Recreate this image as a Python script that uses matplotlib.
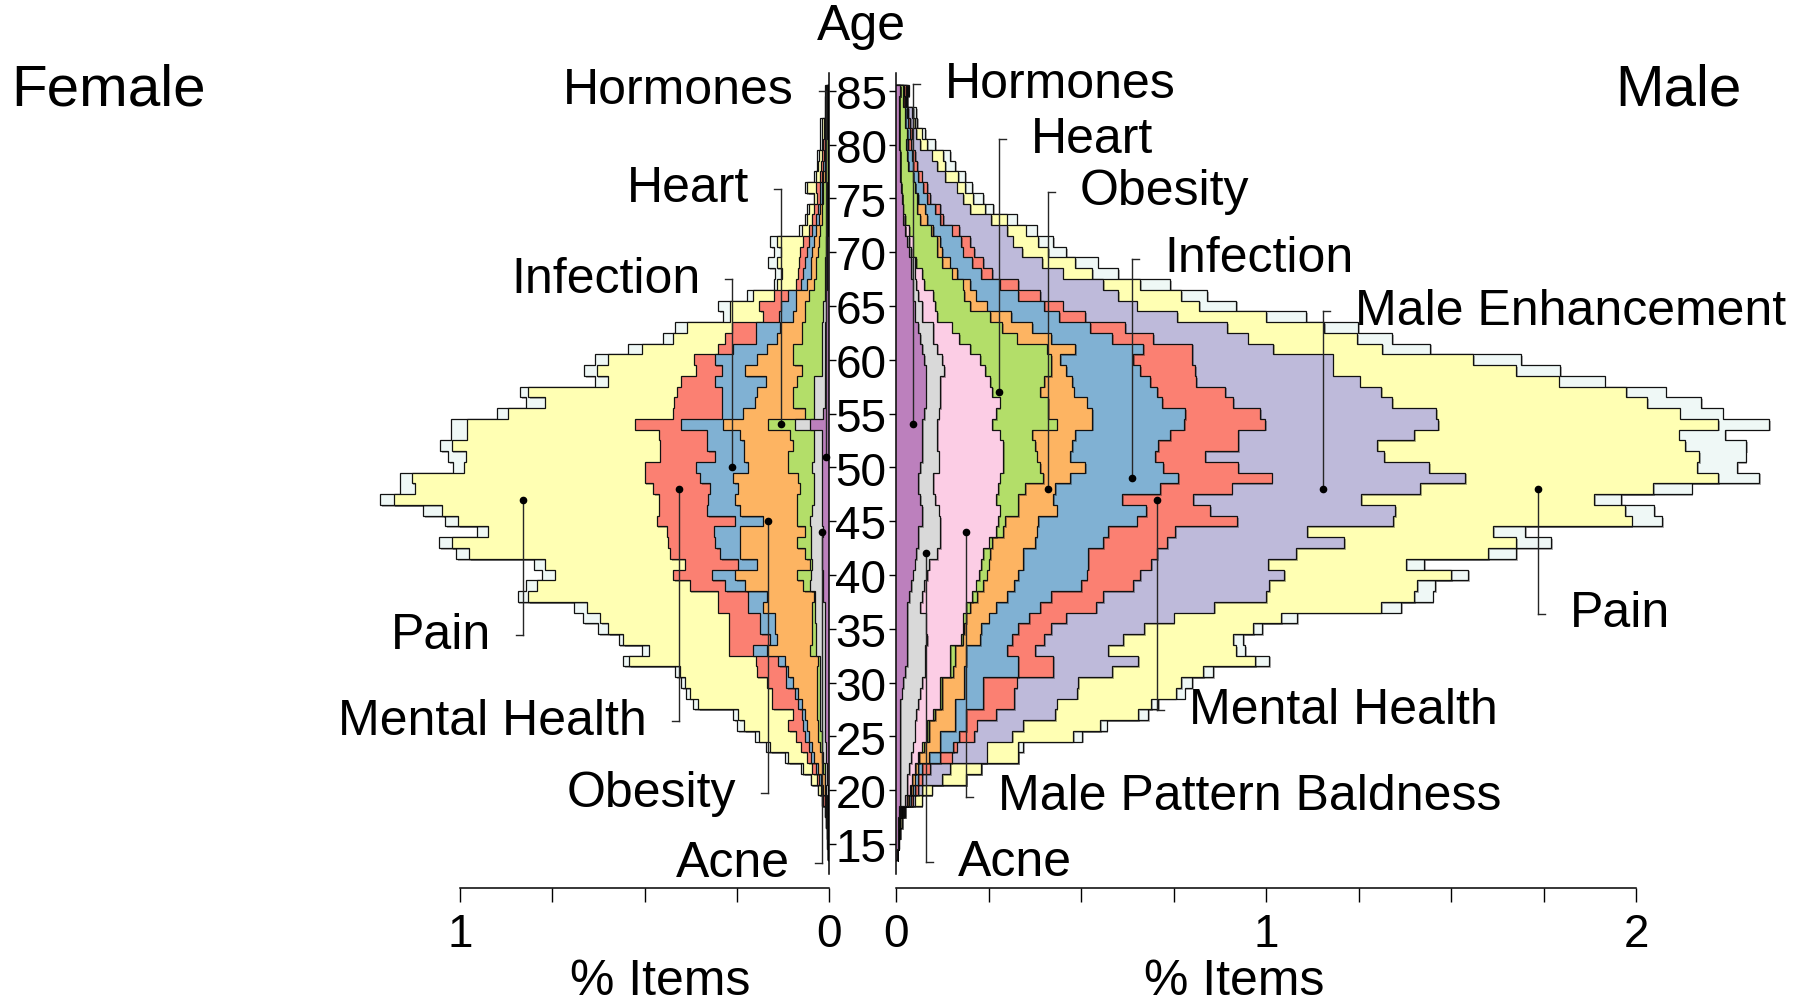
import numpy as np
import matplotlib
matplotlib.use("Agg")
import matplotlib.pyplot as plt
import matplotlib.patheffects as pe
from matplotlib.transforms import blended_transform_factory

plt.rcParams['font.family'] = ['Liberation Sans', 'DejaVu Sans']

# ---------------- data (share of items, %), ages 14..85 ----------------
ages = np.arange(14, 86)
age_ticks = [15, 20, 25, 30, 35, 40, 45, 50, 55, 60, 65, 70, 75, 80, 85]

male_categories = ['Hormones', 'Acne', 'Male Pattern Baldness', 'Heart', 'Obesity',
                   'Infection', 'Mental Health', 'Male Enhancement', 'Pain', 'Other']
female_categories = ['Hormones', 'Acne', 'Heart', 'Obesity', 'Infection',
                     'Mental Health', 'Pain', 'Other']

male_hormones = [.002, .005, .006, .006, .008, .010, .010, .010, .010, .011, .011, .011, .011, .011, .011, .015,
                 .020, .025, .029, .029, .029, .030, .030, .030, .035, .040, .045, .050, .055, .060, .060, .070,
                 .070, .065, .060, .060, .065, .070, .070, .070, .070, .075, .080, .080, .080, .080, .075, .070,
                 .065, .060, .050, .050, .045, .045, .040, .040, .035, .030, .025, .020, .018, .016, .014, .012,
                 .010, .010, .009, .008, .008, .008, .008, .011]
male_acne = [0, 0, 0, .002, .004, .015, .020, .020, .025, .029, .034, .039, .039, .044, .049, .050,
             .050, .053, .049, .049, .054, .050, .050, .035, .035, .035, .040, .040, .055, .060, .060, .050,
             .045, .040, .040, .040, .050, .045, .040, .040, .040, .040, .040, .040, .040, .050, .050, .040,
             .035, .040, .020, .020, .015, .010, .010, .010, .005, .005, 0, 0, 0, 0, 0, 0,
             0, 0, 0, 0, 0, 0, 0, 0]
male_baldness = [0, 0, 0, 0, .002, .005, .008, .012, .016, .020, .024, .033, .033, .045, .059, .054,
                 .049, .068, .068, .068, .094, .100, .100, .125, .135, .140, .140, .140, .125, .130, .150, .155,
                 .165, .165, .175, .180, .175, .175, .180, .170, .150, .155, .160, .140, .134, .110, .102, .090,
                 .070, .050, .040, .035, .040, .020, .020, .005, .005, .010, .010, .005, 0, 0, 0, 0,
                 0, 0, 0, 0, 0, 0, 0, 0]
male_heart = [0, 0, 0, 0, 0, 0, .002, .001, .001, .002, .006, .007, .007, .005, .006, .006,
              .006, .009, .014, .014, .003, .005, .010, .010, .015, .020, .020, .020, .020, .010, .020, .020,
              .050, .060, .073, .118, .100, .090, .086, .087, .174, .140, .130, .130, .146, .180, .193, .207,
              .156, .136, .145, .095, .085, .105, .080, .070, .065, .065, .060, .040, .038, .040, .037, .035,
              .023, .019, .018, .021, .016, .016, .012, .009]
male_obesity = [0, 0, 0, 0, .001, .005, .005, .007, .008, .028, .044, .030, .070, .055, .035, .060,
                .060, .030, .030, .030, .047, .045, .060, .070, .080, .085, .085, .094, .089, .115, .090, .090,
                .104, .095, .082, .072, .121, .090, .099, .117, .095, .119, .105, .090, .075, .040, .023, .077,
                .094, .081, .055, .045, .030, .020, .015, .020, .015, .010, .005, .018, .022, .004, 0, 0,
                0, 0, 0, 0, 0, 0, 0, 0]
male_infection = [0, 0, 0, .001, .002, .005, .007, .010, .010, .030, .036, .050, .029, .030, .076, .051,
                  .051, .145, .140, .110, .086, .100, .110, .120, .120, .180, .185, .176, .176, .185, .194, .265,
                  .243, .185, .283, .293, .211, .230, .234, .256, .249, .252, .205, .225, .211, .200, .198, .184,
                  .163, .157, .130, .155, .115, .080, .065, .060, .055, .055, .050, .036, .028, .023, .023, .013,
                  .014, .013, .006, .009, .009, .007, 0, .002]
male_mental = [0, 0, .001, .001, .003, .005, .008, .010, .022, .030, .009, .040, .029, .080, .084, .084,
               .090, .095, .095, .075, .087, .090, .100, .150, .140, .140, .145, .170, .185, .172, .180, .271,
               .172, .194, .194, .252, .203, .135, .216, .185, .219, .203, .192, .184, .124, .148, .159, .132,
               .112, .095, .070, .050, .060, .050, .030, .030, .030, .025, .020, .009, .013, .009, .009, .009,
               .009, .009, .007, .004, .005, .002, .004, .005]
male_enhancement = [0, .001, .001, .002, .002, .005, .010, .054, .054, .095, .081, .103, .126, .160, .114, .170,
                    .167, .158, .230, .199, .214, .250, .290, .320, .440, .368, .388, .315, .377, .478, .356, .422,
                    .499, .452, .510, .524, .515, .485, .375, .475, .468, .476, .428, .421, .443, .372, .380, .220,
                    .255, .276, .250, .200, .210, .230, .190, .160, .130, .115, .130, .130, .081, .090, .081, .063,
                    .054, .045, .025, .012, .009, .009, .003, .002]
male_pain = [0, .001, .002, .004, .002, .019, .026, .065, .085, .085, .086, .166, .207, .225, .256, .268,
             .277, .247, .315, .346, .298, .296, .290, .450, .400, .400, .452, .374, .519, .466, .503, .645,
             .622, .630, .630, .682, .726, .851, .833, .715, .756, .658, .691, .663, .538, .496, .380, .294,
             .296, .262, .240, .170, .170, .100, .080, .090, .070, .070, .050, .041, .040, .027, .022, .036,
             .022, .032, .018, .015, .004, .005, .002, .003]
male_other = [0, 0, 0, 0, 0, 0, 0, 0, 0, 0, .013, .023, .018, .027, .019, .022,
              .030, .026, .038, .023, .027, .024, .045, .055, .050, .050, .046, .048, .075, .094, .087, .082,
              .080, .074, .103, .111, .108, .125, .164, .125, .139, .116, .146, .107, .124, .119, .130, .129,
              .094, .092, .108, .100, .070, .080, .070, .060, .050, .040, .030, .027, .023, .027, .019, .018,
              .028, .018, .022, .009, .005, .007, .002, .002]

female_hormones = [.002, .003, .003, .003, .003, .004, .004, .005, .006, .008, .008, .010, .010, .010, .010, .010,
                   .010, .010, .010, .012, .012, .012, .012, .012, .015, .015, .015, .018, .020, .020, .015, .020,
                   .018, .018, .018, .020, .020, .020, .020, .020, .051, .015, .012, .012, .011, .011, .011, .011,
                   .011, .011, .008, .008, .008, .006, .006, .006, .005, .005, .004, .004, .004, .003, .003, .003,
                   .003, .002, .002, .002, .002, .002, .002, .002]
female_acne = [0, 0, .001, .001, .002, .002, .004, .005, .006, .007, .010, .010, .014, .014, .014, .014,
               .014, .014, .015, .023, .023, .023, .026, .026, .023, .036, .035, .027, .030, .030, .035, .031,
               .027, .024, .024, .022, .025, .020, .020, .020, .041, .027, .030, .030, .031, .009, .009, .009,
               .009, .009, .007, .007, .004, .004, .004, .004, .003, .003, .002, .002, .002, .002, .002, .001,
               .001, .001, .001, .001, .001, 0, 0, 0]
female_heart = [0, 0, 0, .001, .001, .002, .002, .002, .003, .005, .007, .010, .006, .009, .009, .009,
                .009, .009, .005, .016, .012, .012, .009, .009, .004, .019, .038, .006, .015, .038, .015, .037,
                .043, .046, .037, .041, .065, .070, .057, .066, .072, .023, .055, .055, .046, .054, .077, .077,
                .054, .054, .050, .050, .043, .030, .025, .025, .022, .020, .019, .014, .012, .010, .010, .008,
                .006, .005, .005, .003, .003, .002, .002, .001]
female_obesity = [0, .001, .001, .001, .002, .002, .005, .010, .015, .020, .020, .025, .030, .032, .041, .050,
                  .064, .077, .090, .118, .093, .099, .099, .131, .127, .158, .167, .145, .176, .153, .176, .090,
                  .153, .167, .167, .177, .110, .120, .133, .134, .122, .167, .103, .099, .082, .154, .099, .072,
                  .068, .059, .032, .025, .035, .020, .015, .015, .015, .012, .010, .008, .006, .005, .005, .003,
                  .002, .002, .002, .002, .002, .001, .001, .001]
female_infection = [0, 0, 0, .001, .001, .002, .003, .004, .005, .008, .010, .010, .010, .009, .009, .009,
                    .020, .007, .017, .036, .020, .041, .041, .041, .050, .054, .063, .050, .054, .068, .072, .077,
                    .089, .072, .076, .090, .140, .080, .100, .090, .114, .058, .090, .094, .140, .062, .114, .091,
                    .055, .064, .038, .040, .020, .015, .020, .015, .015, .015, .010, .007, .006, .005, .005, .005,
                    .004, .004, .002, .002, .002, .001, .001, .001]
female_mental = [0, 0, .001, .001, .001, .003, .004, .006, .010, .012, .020, .025, .040, .023, .072, .063,
                 .052, .079, .061, .065, .110, .083, .083, .081, .081, .096, .104, .144, .135, .126, .127, .212,
                 .132, .135, .154, .150, .140, .148, .128, .130, .126, .134, .130, .123, .090, .070, .056, .040,
                 .085, .067, .045, .059, .040, .015, .015, .015, .019, .015, .010, .010, .010, .007, .010, .005,
                 .006, .006, .004, .004, .004, .002, .002, .001]
female_pain = [0, .001, 0, 0, .002, .005, .008, .016, .025, .050, .085, .100, .120, .149, .199, .222,
               .221, .208, .343, .217, .287, .328, .350, .357, .515, .414, .321, .380, .545, .588, .484, .538,
               .587, .718, .646, .631, .490, .526, .565, .520, .454, .445, .350, .402, .198, .270, .232, .208,
               .140, .122, .088, .079, .055, .052, .043, .062, .051, .070, .019, .015, .015, .008, .025, .010,
               .008, .008, .004, .006, .006, .002, .002, .002]
female_other = [0, 0, 0, 0, 0, 0, 0, .002, .005, .010, .010, .010, .020, .013, .014, .011,
                .010, .013, .016, .020, .013, .027, .047, .033, .029, .028, .034, .030, .035, .033, .031, .035,
                .051, .037, .041, .032, .030, .048, .031, .045, .045, .031, .052, .022, .036, .034, .036, .036,
                .028, .031, .018, .032, .018, .008, .018, .022, .020, .020, .006, .005, .005, .002, .005, .005,
                .003, .005, .004, .004, .004, .002, .002, .002]

male_series = [male_hormones, male_acne, male_baldness, male_heart, male_obesity,
               male_infection, male_mental, male_enhancement, male_pain, male_other]
female_series = [female_hormones, female_acne, female_heart, female_obesity,
                 female_infection, female_mental, female_pain, female_other]

# label annotations: (name, value at dot, age at dot, age of label line end)
male_labels = ['Hormones', 'Heart', 'Obesity', 'Infection', 'Male Enhancement',
               'Pain', 'Mental Health', 'Male Pattern Baldness', 'Acne']
male_dot_value = [0.045, 0.278, 0.411, 0.638, 1.154, 1.734, 0.705, 0.189, 0.081]
male_dot_age = [54, 57, 48, 49, 48, 48, 47, 44, 42]
male_label_age = [85.6, 80.5, 75.6, 69.4, 64.5, 36.4, 27.4, 19.4, 13.3]

female_labels = ['Hormones', 'Heart', 'Infection', 'Pain', 'Mental Health', 'Obesity', 'Acne']
female_dot_value = [0.009, 0.129, 0.262, 0.828, 0.406, 0.166, 0.020]
female_dot_age = [51, 54, 50, 47, 48, 45, 44]
female_label_age = [85.0, 75.9, 67.5, 34.4, 26.4, 19.7, 13.2]

colors = {
    'Hormones': '#bc80bd', 'Acne': '#d9d9d9', 'Male Pattern Baldness': '#fccde5',
    'Heart': '#b3de69', 'Obesity': '#fdb462', 'Infection': '#80b1d3',
    'Mental Health': '#fb8072', 'Male Enhancement': '#bebada', 'Pain': '#ffffb3',
    'Other': '#eff8f6',
}

for s in male_series + female_series:
    assert len(s) == len(ages)

# ---------------- layout ----------------
W, H, DPI = 1813, 1004, 100
X0_F, X0_M = 829.0, 896.0          # pixel position of the two zero lines
PPU_F, PPU_M = 369.0, 370.0        # pixels per 1 %
AGE85_PX, PPY = 91.7, 10.76        # pixel row of age 85, pixels per year

fig = plt.figure(figsize=(W / DPI, H / DPI), dpi=DPI)
fig.patch.set_facecolor('white')

ytop = 85 + AGE85_PX / PPY
ybot = 85 - (H - AGE85_PX) / PPY
base_age = 85 - (889 - AGE85_PX) / PPY

axF = fig.add_axes([0, 0, X0_F / W, 1])
axF.set_xlim(X0_F / PPU_F, 0)
axM = fig.add_axes([X0_M / W, 0, (W - X0_M) / W, 1])
axM.set_xlim(0, (W - X0_M) / PPU_M)

for ax in (axF, axM):
    ax.set_ylim(ybot, ytop)
    ax.patch.set_visible(False)
    for sp in ax.spines.values():
        sp.set_visible(False)

edges = np.append(ages - 0.5, ages[-1] + 0.5)
shadow = [pe.SimplePatchShadow(offset=(1.3, -1.3), shadow_rgbFace='#000000', alpha=0.3), pe.Normal()]


def draw_stack(ax, series, cats):
    cum = np.cumsum(np.array(series, dtype=float), axis=0)
    for i in range(len(series) - 1, -1, -1):
        ax.stairs(cum[i], edges, baseline=0, fill=True, orientation='horizontal',
                  facecolor=colors[cats[i]], edgecolor='#111111', linewidth=0.9,
                  zorder=2, path_effects=shadow)


draw_stack(axM, male_series, male_categories)
draw_stack(axF, female_series, female_categories)

# age axes (the two vertical zero lines)
axF.spines['right'].set_visible(True)
axF.spines['right'].set_bounds(12.2, 86.6)
axF.spines['right'].set_linewidth(1.1)
axF.yaxis.tick_right()
axF.set_yticks(age_ticks)
axF.tick_params(axis='y', right=True, left=False, direction='out', length=5, width=1,
                labelright=False, labelleft=False)

axM.spines['left'].set_visible(True)
axM.spines['left'].set_bounds(12.2, 86.6)
axM.spines['left'].set_linewidth(1.1)
axM.yaxis.tick_left()
axM.set_yticks(age_ticks)
axM.tick_params(axis='y', left=True, right=False, direction='out', length=5, width=1,
                labelleft=False, labelright=False)

# age labels between the two zero lines
tr_age = blended_transform_factory(fig.transFigure, axF.transData)
for a in age_ticks:
    fig.text(861 / W, a - 5.3 / PPY, str(a), transform=tr_age, ha='center', va='center',
             fontsize=33, zorder=10)

# bottom % axes
axF.spines['bottom'].set_visible(True)
axF.spines['bottom'].set_position(('data', base_age))
axF.spines['bottom'].set_bounds(0, 1)
axF.set_xticks([0, 0.25, 0.5, 0.75, 1.0])
axF.set_xticklabels(['0', '', '', '', '1'])
axM.spines['bottom'].set_visible(True)
axM.spines['bottom'].set_position(('data', base_age))
axM.spines['bottom'].set_bounds(0, 2)
axM.set_xticks([0, 0.25, 0.5, 0.75, 1.0, 1.25, 1.5, 1.75, 2.0])
axM.set_xticklabels(['0', '', '', '', '1', '', '', '', '2'])
for ax in (axF, axM):
    ax.spines['bottom'].set_linewidth(1.1)
    ax.tick_params(axis='x', direction='out', length=10, width=1, labelsize=33, pad=7)

items_age = 85 - (982 - AGE85_PX) / PPY
axF.text((X0_F - 660) / PPU_F, items_age, '% Items', ha='center', va='center', fontsize=36)
axM.text((1234 - X0_M) / PPU_M, items_age, '% Items', ha='center', va='center', fontsize=36)

# titles
fig.text(861 / W, 1 - 27.5 / H, 'Age', ha='center', va='center', fontsize=36)
fig.text(11 / W, 1 - 90.5 / H, 'Female', ha='left', va='center', fontsize=42)
fig.text(1742 / W, 1 - 90.5 / H, 'Male', ha='right', va='center', fontsize=42)

# labels with leader lines
STUB_PX, GAP_PX = 7.0, 25.0


def annotate(ax, names, dvals, dages, lages, ppu, ha):
    for name, dv, da, la in zip(names, dvals, dages, lages):
        ax.plot([dv, dv], [da, la], color='#262626', lw=1.0, zorder=5, clip_on=False)
        ax.plot([dv, dv + STUB_PX / ppu], [la, la], color='#262626', lw=1.0, zorder=5, clip_on=False)
        ax.plot([dv], [da], 'o', color='black', ms=4.5, zorder=6, clip_on=False)
        ax.text(dv + (STUB_PX + GAP_PX) / ppu, la + 0.4 / PPY, name, ha=ha, va='center',
                fontsize=36, zorder=7)


annotate(axM, male_labels, male_dot_value, male_dot_age, male_label_age, PPU_M, 'left')
annotate(axF, female_labels, female_dot_value, female_dot_age, female_label_age, PPU_F, 'right')

fig.savefig('out.png', dpi=DPI, facecolor='white')
